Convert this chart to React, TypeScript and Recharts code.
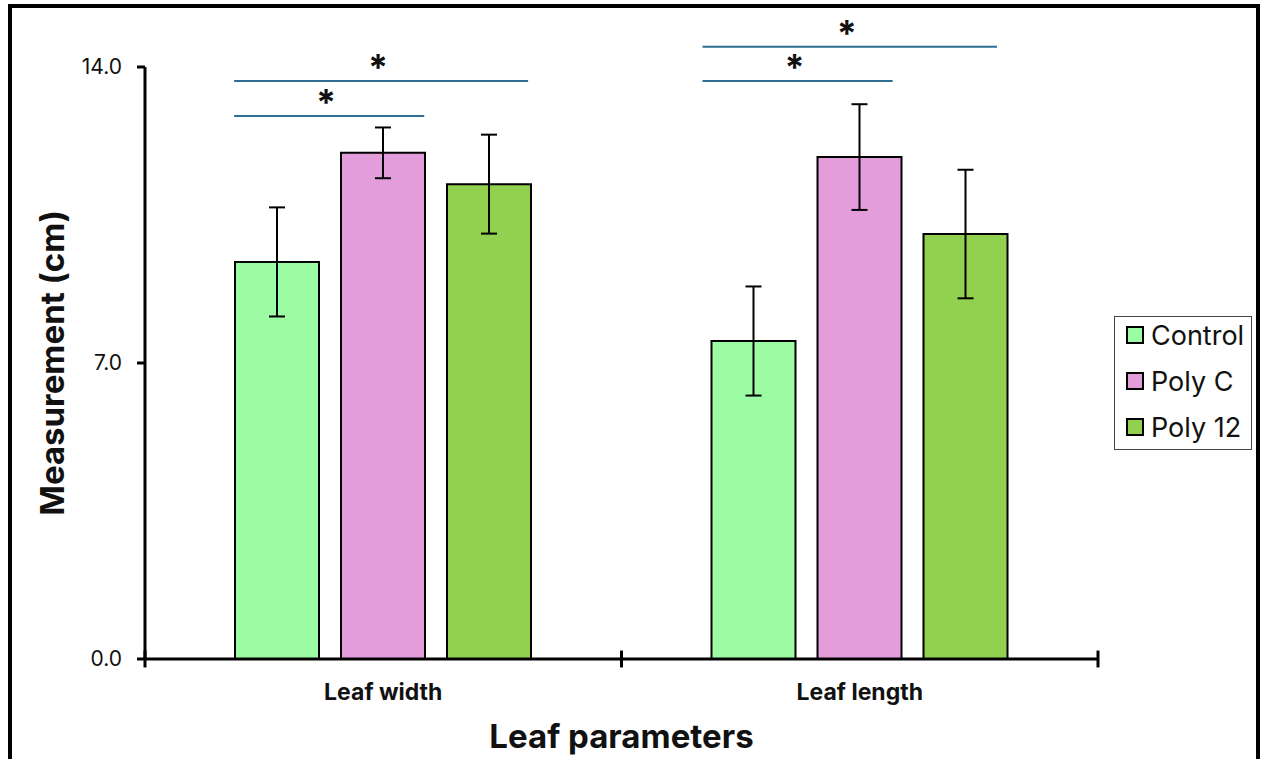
import React from 'react';
import { BarChart, Bar, XAxis, YAxis, ErrorBar, ReferenceLine } from 'recharts';

const categories = ['Leaf width', 'Leaf length'];
const controlMeans = [9.39, 7.52];
const controlErr = [1.29, 1.29];
const polyCMeans = [11.97, 11.87];
const polyCErr = [0.6, 1.25];
const poly12Means = [11.23, 10.05];
const poly12Err = [1.17, 1.52];

const seriesNames = ['Control', 'Poly C', 'Poly 12'];
const seriesColors = ['#9cfca4', '#e39ddb', '#92d050'];
const yTicks = [0, 7, 14];
const boundaryTicks = [0, 1, 2];

// significance brackets: x in category units (0..2), y in cm
const brackets = [
  { x1: 0.187, x2: 0.586, y: 12.84 },
  { x1: 0.187, x2: 0.804, y: 13.67 },
  { x1: 1.17, x2: 1.569, y: 13.67 },
  { x1: 1.17, x2: 1.788, y: 14.48 },
];

const data = categories.map((name, i) => ({
  name,
  pos: i + 0.5,
  control: controlMeans[i],
  controlErr: controlErr[i],
  polyC: polyCMeans[i],
  polyCErr: polyCErr[i],
  poly12: poly12Means[i],
  poly12Err: poly12Err[i],
}));

const FONT = 'Inter, "Open Sans", sans-serif';

const StarLabel = (props: any) => {
  const vb = props.viewBox || {};
  const cx = vb.x + (vb.width || 0) / 2 - 3;
  return (
    <text x={cx} y={vb.y - 1} textAnchor="middle" fontSize={36} fontWeight="bold" fill="#111" fontFamily={FONT}>
      *
    </text>
  );
};

export default function App() {
  return (
    <div style={{ position: 'absolute', left: 0, top: 0, width: 1262, height: 759, overflow: 'hidden', background: '#fff', fontFamily: FONT }}>
      <div style={{ position: 'absolute', left: 8, top: 4, width: 1244, height: 800, border: '4px solid #000' }} />
      <BarChart
        width={1262}
        height={759}
        data={data}
        margin={{ top: 67, right: 164, bottom: 0, left: 85 }}
        barCategoryGap={90}
        barGap={22}
        style={{ position: 'absolute', left: 0, top: 0 }}
      >
        <XAxis
          xAxisId="num"
          dataKey="pos"
          type="number"
          domain={[0, 2]}
          ticks={boundaryTicks}
          allowDataOverflow
          hide
        />
        <XAxis
          xAxisId="cat"
          dataKey="name"
          axisLine={{ stroke: '#000', strokeWidth: 3 }}
          tickLine={false}
          tickSize={0}
          tickMargin={25}
          tick={{ fill: '#111', fontSize: 23, fontWeight: 'bold', fontFamily: FONT }}
          height={100}
          label={(p: any) => (
            <text
              x={p.viewBox.x + p.viewBox.width / 2}
              y={p.viewBox.y + 89}
              textAnchor="middle"
              fontSize={33}
              fontWeight="bold"
              fill="#111"
              fontFamily={FONT}
            >
              Leaf parameters
            </text>
          )}
        />
        <YAxis
          width={60}
          domain={[0, 14]}
          ticks={yTicks}
          interval={0}
          tickFormatter={(v: number) => v.toFixed(1)}
          axisLine={{ stroke: '#000', strokeWidth: 3 }}
          tickLine={{ stroke: '#000', strokeWidth: 3 }}
          tickSize={8}
          tickMargin={15}
          tick={{ fill: '#111', fontSize: 21, fontFamily: FONT }}
          label={(p: any) => {
            const x = p.viewBox.x - 33;
            const y = p.viewBox.y + p.viewBox.height / 2;
            return (
              <text
                x={x}
                y={y}
                transform={`rotate(-90, ${x}, ${y})`}
                textAnchor="middle"
                dominantBaseline="central"
                fontSize={33}
                fontWeight="bold"
                fill="#111"
                fontFamily={FONT}
              >
                Measurement (cm)
              </text>
            );
          }}
        />
        <Bar xAxisId="cat" dataKey="control" fill={seriesColors[0]} stroke="#000" strokeWidth={2} isAnimationActive={false}>
          <ErrorBar dataKey="controlErr" width={8} stroke="#000" strokeWidth={2} />
        </Bar>
        <Bar xAxisId="cat" dataKey="polyC" fill={seriesColors[1]} stroke="#000" strokeWidth={2} isAnimationActive={false}>
          <ErrorBar dataKey="polyCErr" width={8} stroke="#000" strokeWidth={2} />
        </Bar>
        <Bar xAxisId="cat" dataKey="poly12" fill={seriesColors[2]} stroke="#000" strokeWidth={2} isAnimationActive={false}>
          <ErrorBar dataKey="poly12Err" width={8} stroke="#000" strokeWidth={2} />
        </Bar>
        {boundaryTicks.map((t) => (
          <ReferenceLine
            key={'t' + t}
            xAxisId="num"
            segment={[
              { x: t, y: -0.2 },
              { x: t, y: 0.2 },
            ]}
            stroke="#000"
            strokeWidth={3}
            ifOverflow="visible"
          />
        ))}
        {brackets.map((b, i) => (
          <ReferenceLine
            key={i}
            xAxisId="num"
            segment={[
              { x: b.x1, y: b.y },
              { x: b.x2, y: b.y },
            ]}
            stroke="#2f6e93"
            strokeWidth={2}
            ifOverflow="visible"
            label={<StarLabel />}
          />
        ))}
      </BarChart>
      <div
        style={{
          position: 'absolute',
          left: 1114,
          top: 316,
          width: 136,
          height: 132,
          border: '1px solid #444',
          boxSizing: 'content-box',
        }}
      >
        {seriesNames.map((n, i) => (
          <div key={n} style={{ position: 'absolute', left: 11, top: 0 + i * 46, height: 36, display: 'flex', alignItems: 'center' }}>
            <div style={{ width: 14, height: 14, background: seriesColors[i], border: '2px solid #000', marginRight: 7 }} />
            <span style={{ fontSize: 27, color: '#111', whiteSpace: 'nowrap' }}>{n}</span>
          </div>
        ))}
      </div>
    </div>
  );
}
